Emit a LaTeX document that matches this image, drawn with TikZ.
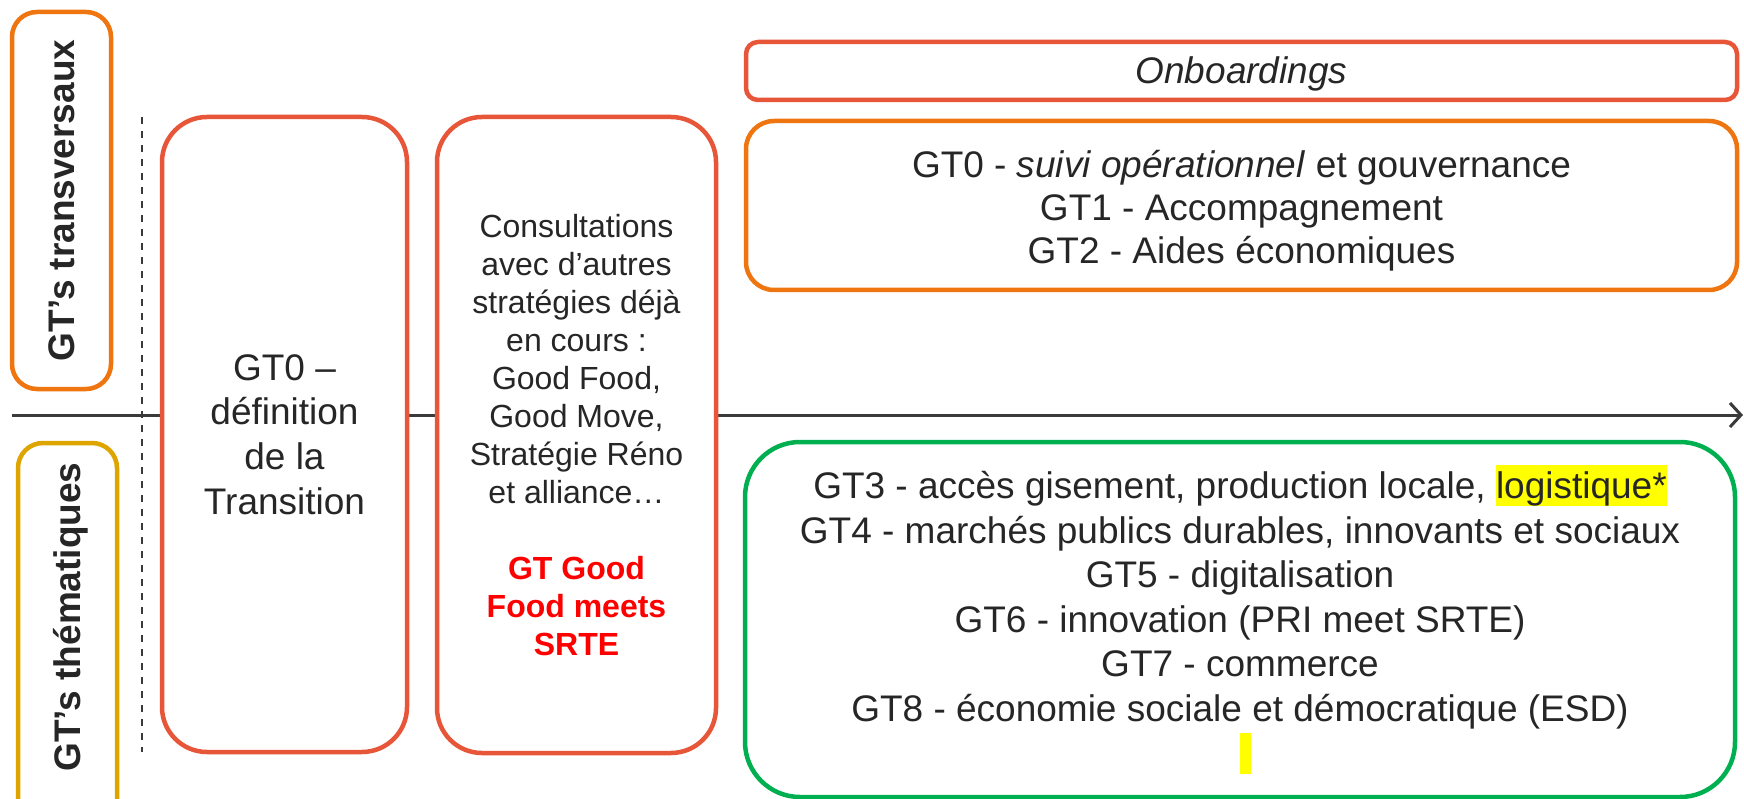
\documentclass[tikz,border=0pt]{standalone}
\usepackage{fontspec}
\setmainfont{Liberation Sans}
\usetikzlibrary{arrows.meta}
\definecolor{boxred}{HTML}{E8563A}
\definecolor{boxorange}{HTML}{EE750F}
\definecolor{boxgold}{HTML}{DEA500}
\definecolor{boxgreen}{HTML}{00B050}
\definecolor{txtgray}{HTML}{262626}
\definecolor{hlyellow}{HTML}{FFFF00}
\definecolor{linegray}{HTML}{3A3A3A}
\definecolor{alertred}{HTML}{FF0000}
\newcommand{\hlbox}[1]{{\setlength{\fboxsep}{0pt}\colorbox{hlyellow}{\rule[-7.8pt]{0pt}{41.3pt}#1}}}
\begin{document}
\begin{tikzpicture}[x=1pt,y=-1pt,
  boxframe/.style={draw=#1, fill=white, line width=4.5pt, inner sep=0pt, text=txtgray, align=center},
  plaintxt/.style={text=txtgray, align=center, inner sep=0pt},
  bigtxt/.style={font=\fontsize{37pt}{44.6pt}\selectfont},
  midtxt/.style={font=\fontsize{32pt}{38pt}\selectfont},
  sidelbl/.style={font=\bfseries\fontsize{37pt}{44pt}\selectfont, text=txtgray, inner sep=0pt},
  axisline/.style={draw=linegray, line width=3pt},
  guide/.style={draw=linegray, line width=2pt, dash pattern=on 7pt off 7pt}]
\useasboundingbox (0,0) rectangle (1744,799);
\clip (0,0) rectangle (1744,799);
\fill[white] (0,0) rectangle (1744,799);

% timeline and guide
\coordinate (lstart) at (12,415);
\coordinate (lend) at (1743,415);
\coordinate (dtop) at (142,117);
\coordinate (dbot) at (142,752);
\draw[axisline, -{Straight Barb[length=11pt,width=24pt]}] (lstart) -- (lend);
\draw[guide] (dtop) -- (dbot);

% side labels
\node[boxframe=boxorange, rounded corners=25pt, rotate=90, minimum width=377pt, minimum height=99pt, sidelbl] (trans) at (61.5,200.5) {GT’s transversaux};
\node[boxframe=boxgold, rounded corners=25pt, minimum width=99pt, minimum height=400pt] (them) at (67.5,643) {};
\node[sidelbl, rotate=90, anchor=base] (themtxt) at (80,617) {GT’s thématiques};

% left process boxes
\node[boxframe=boxred, rounded corners=45pt, minimum width=245pt, minimum height=635pt, bigtxt] (def) at (284.5,434.5)
  {GT0 –\\définition\\de la\\Transition};
\node[boxframe=boxred, rounded corners=45pt, minimum width=279pt, minimum height=636pt, midtxt] (consult) at (576.5,435)
  {Consultations\\avec d’autres\\stratégies déjà\\en cours :\\Good Food,\\Good Move,\\Stratégie Réno\\et alliance…\\~\\
   \textcolor{alertred}{\bfseries GT Good}\\\textcolor{alertred}{\bfseries Food meets}\\\textcolor{alertred}{\bfseries SRTE}};

% right boxes
\node[boxframe=boxred, rounded corners=12pt, minimum width=991pt, minimum height=58pt] (onb) at (1241.5,71) {};
\node[plaintxt, bigtxt] (onbtxt) at (1241.5,73.5) {\itshape Onboardings};
\node[boxframe=boxorange, rounded corners=28pt, minimum width=991pt, minimum height=169pt] (transv) at (1241.5,205.5) {};
\node[plaintxt, font=\fontsize{37pt}{43pt}\selectfont] (transvtxt) at (1241.5,210.5)
  {GT0 - \textit{suivi opérationnel} et gouvernance\\GT1 - Accompagnement\\GT2 - Aides économiques};
\node[boxframe=boxgreen, rounded corners=55pt, minimum width=990pt, minimum height=355pt, bigtxt] (thema) at (1240,619.5)
  {GT3 - accès gisement, production locale, \hlbox{logistique*}\\
   GT4 - marchés publics durables, innovants et sociaux\\
   GT5 - digitalisation\\
   GT6 - innovation (PRI meet SRTE)\\
   GT7 - commerce\\
   GT8 - économie sociale et démocratique (ESD)\\
   \hspace*{10pt}\hlbox{\hspace*{11pt}}};
\end{tikzpicture}
\end{document}
